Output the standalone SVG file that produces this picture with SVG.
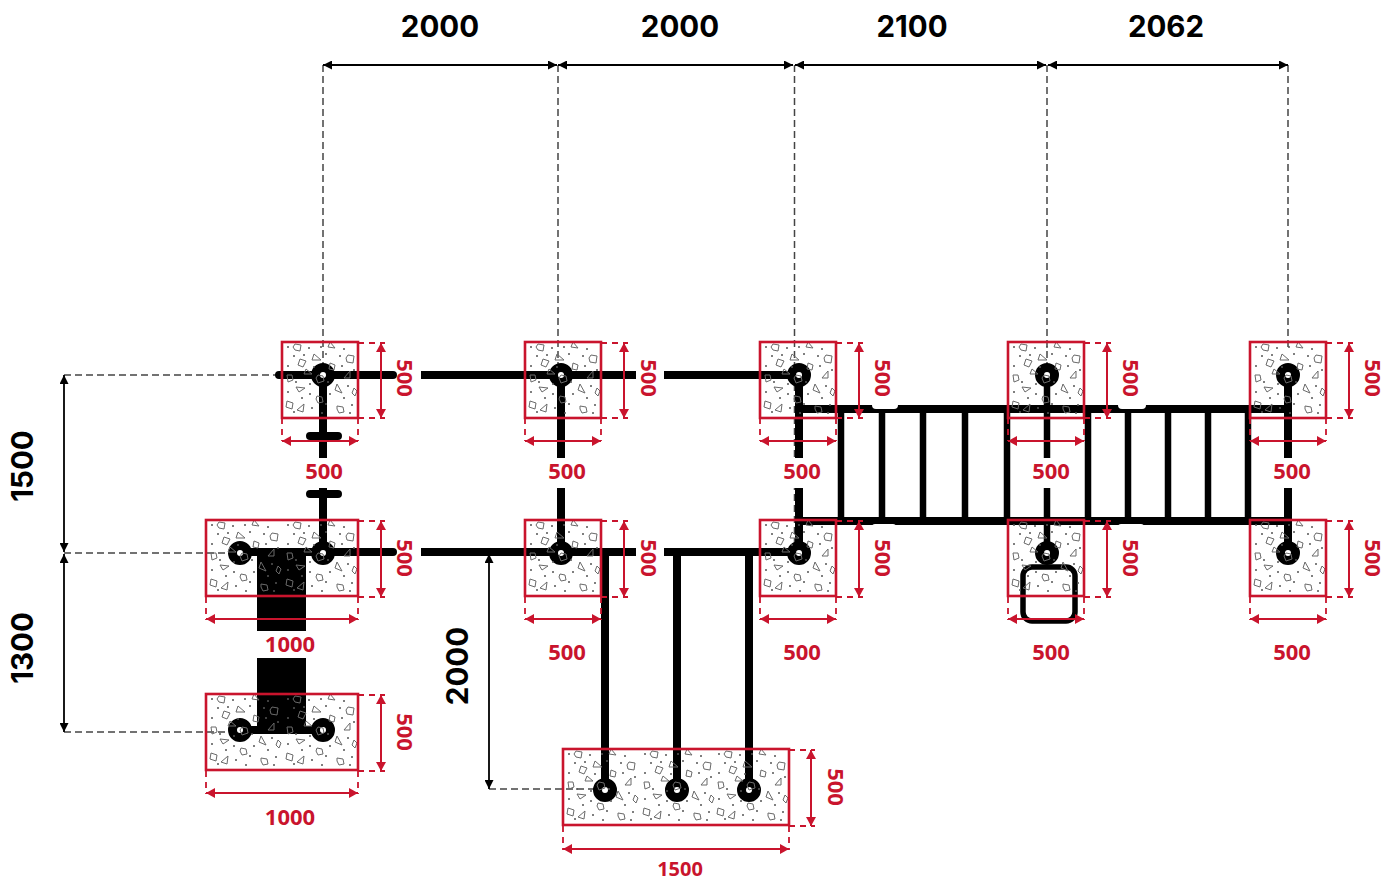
<svg xmlns="http://www.w3.org/2000/svg" width="1395" height="883" viewBox="0 0 1395 883">
<style>
text{font-family:"Inter","Liberation Sans",sans-serif;font-weight:700;text-anchor:middle}
.bt{font-size:29.500px;fill:#000}
.rt{font-family:"Open Sans","Liberation Sans",sans-serif;font-size:22px;fill:#c9142d}
.box{fill:none;stroke:#c9142d;stroke-width:2.6}
.rd{fill:none;stroke:#c9142d;stroke-width:1.8;stroke-dasharray:6 5}
.ra{fill:none;stroke:#c9142d;stroke-width:2;marker-start:url(#mr);marker-end:url(#mr)}
.ka{fill:none;stroke:#000;stroke-width:1.8;marker-start:url(#mk);marker-end:url(#mk)}
.kd{fill:none;stroke:#444;stroke-width:1.500;stroke-dasharray:7 4}
.b{fill:none;stroke:#000;stroke-width:8}
.r{fill:none;stroke:#000;stroke-width:6.5}
.c{fill:#fff;stroke:#000;stroke-width:9}
.q{fill:none;stroke:#6a6a6a;stroke-width:1}
.d{fill:#555}
</style>
<defs>
<filter id="soft" x="-5%" y="-5%" width="110%" height="110%"><feGaussianBlur stdDeviation="0.7"/></filter>
<marker id="mr" viewBox="0 0 10 10" refX="10" refY="5" markerWidth="9" markerHeight="10" markerUnits="userSpaceOnUse" orient="auto-start-reverse" preserveAspectRatio="none"><path d="M0 0L10 5L0 10Z" fill="#c9142d"/></marker>
<marker id="mk" viewBox="0 0 10 10" refX="10" refY="5" markerWidth="9" markerHeight="9" markerUnits="userSpaceOnUse" orient="auto-start-reverse"><path d="M0 0L10 5L0 10Z" fill="#000"/></marker>
<g id="tex">
<path class="q" d="M13 2l6 1-1 6-5-1-2-3zM66 13l6 1-1 7-6-1-1-4zM18 17l6 2-3 6-5-2zM48 21l5 2-1 5-5-1zM36 33l5 1 1 5-6 2-2-5zM5 33l5 0 1 5-5 2zM72 46l3 3-2 5-3-3zM35 54l5 1 1 5-5 1-2-4zM5 59l6 2-1 6-6-2zM55 64l6 1 1 5-5 1-2-4z"/>
<path class="q" d="M48 0l5 6-7-1zM32 12l7 6-9 0zM24 27l6 5-8 0zM68 29l0 7-6 0zM14 45l9 1-6 4zM55 42l5 9-7-3zM22 62l-1 8-6-2z"/>
<g class="d"><circle cx="6" cy="5" r="1"/><circle cx="27" cy="6" r="1"/><circle cx="39" cy="5" r="1"/><circle cx="62" cy="7" r="1"/><circle cx="12" cy="14" r="1"/><circle cx="22" cy="13" r="1"/><circle cx="44" cy="12" r="1"/><circle cx="58" cy="14" r="1"/><circle cx="6" cy="24" r="1"/><circle cx="32" cy="25" r="1"/><circle cx="60" cy="24" r="1"/><circle cx="72" cy="28" r="1"/><circle cx="14" cy="40" r="1"/><circle cx="28" cy="42" r="1"/><circle cx="46" cy="40" r="1"/><circle cx="66" cy="44" r="1"/><circle cx="6" cy="50" r="1"/><circle cx="28" cy="52" r="1"/><circle cx="48" cy="52" r="1"/><circle cx="62" cy="56" r="1"/><circle cx="20" cy="56" r="1"/><circle cx="44" cy="62" r="1"/><circle cx="70" cy="63" r="1"/><circle cx="30" cy="66" r="1"/><circle cx="12" cy="70" r="1"/><circle cx="40" cy="71" r="1"/><circle cx="68" cy="71" r="1"/></g>
</g>
</defs>
<rect width="1395" height="883" fill="#fff"/>

<g id="connectors">
<g id="black-extension-lines">
<path class="kd" d="M323 65V375M558 65V375M794.500 65V552M1047 65V552M1288 65V350"/>
<path class="kd" d="M64 375H282M64 553H240M64 732H238M489 789H605"/>
</g>
<g id="frame" filter="url(#soft)">
<rect x="257" y="552" width="49" height="79" fill="#000"/>
<rect x="257" y="658" width="49" height="72" fill="#000"/>
<path class="b" stroke-linecap="round" d="M279 375H393M240 552H393M240 730H323"/>
<path class="b" d="M421 375H636M664 375H799M421 552H636M664 552H799"/>
<path class="b" d="M323 375V552M561 375V552M605 552V790M677 552V790M749 552V790"/>
<path class="b" stroke-width="7" d="M799 375V552M799 409H1288M799 521H1288M1288 375V552"/>
<path class="r" d="M1047 375V552M841 409V521M882 409V521M923 409V521M965 409V521M1007 409V521M1088 409V521M1128 409V521M1168 409V521M1208 409V521M1248 409V521"/>
<path class="b" stroke-width="7" stroke-linecap="round" d="M310 436H338M310 494H338"/>
<rect x="1023" y="567" width="52" height="54" rx="9" fill="none" stroke="#000" stroke-width="5.500"/>
<rect x="872" y="400" width="26" height="9" rx="4" fill="#fff"/>
<rect x="1118" y="400" width="28" height="9" rx="4" fill="#fff"/>
<rect x="872" y="524" width="24" height="7" rx="3" fill="#fff"/>
<rect x="1118" y="524" width="26" height="7" rx="3" fill="#fff"/>
<g class="c">
<circle cx="323" cy="375" r="7.500"/><circle cx="561" cy="375" r="7.500"/><circle cx="799" cy="375" r="7.500"/><circle cx="1047" cy="375" r="7.500"/><circle cx="1288" cy="375" r="7.500"/>
<circle cx="240" cy="553" r="7.500"/><circle cx="323" cy="553" r="7.500"/><circle cx="561" cy="553" r="7.500"/><circle cx="799" cy="553" r="7.500"/><circle cx="1047" cy="553" r="7.500"/><circle cx="1288" cy="553" r="7.500"/>
<circle cx="240" cy="730" r="7.500"/><circle cx="323" cy="730" r="7.500"/>
<circle cx="605" cy="790" r="7.500"/><circle cx="677" cy="790" r="7.500"/><circle cx="749" cy="790" r="7.500"/>
</g>
</g>
<g id="white-label-backs" fill="#fff">
<rect x="306" y="458" width="36" height="30"/><rect x="549" y="458" width="36" height="30"/><rect x="784" y="458" width="36" height="30"/><rect x="1032" y="458" width="52" height="30"/><rect x="1274" y="458" width="36" height="30"/>
</g>
<g id="black-dimensions">
<path class="ka" d="M323 65H557"/><path class="ka" d="M558 65H793"/><path class="ka" d="M795 65H1046"/><path class="ka" d="M1048 65H1288"/>
<path class="ka" d="M64 375V552"/><path class="ka" d="M64 554V732"/><path class="ka" d="M489 554V789"/>
</g>
</g>

<g id="footings">
<use href="#tex" x="282" y="342"/><use href="#tex" x="525" y="342"/><use href="#tex" x="760" y="342"/><use href="#tex" x="1008" y="342"/><use href="#tex" x="1250" y="342"/>
<use href="#tex" x="206" y="520"/><use href="#tex" x="282" y="520"/><use href="#tex" x="525" y="520"/><use href="#tex" x="760" y="520"/><use href="#tex" x="1008" y="520"/><use href="#tex" x="1250" y="520"/>
<use href="#tex" x="206" y="694"/><use href="#tex" x="282" y="694"/>
<use href="#tex" x="563" y="749"/><use href="#tex" x="639" y="749"/><use href="#tex" x="713" y="749"/>
</g>

<g id="red-dimensions">
<g id="f1"><rect class="box" x="282" y="342" width="76" height="76"/><path class="rd" d="M358 343H385M358 418H385M282 418V441M358 418V441"/><path class="ra" d="M381 343V418"/><path class="ra" d="M282 441H358"/></g>
<g id="f2"><rect class="box" x="525" y="342" width="76" height="76"/><path class="rd" d="M601 343H628M601 418H628M525 418V441M601 418V441"/><path class="ra" d="M624 343V418"/><path class="ra" d="M525 441H601"/></g>
<g id="f3"><rect class="box" x="760" y="342" width="76" height="76"/><path class="rd" d="M836 343H863M836 418H863M760 418V441M836 418V441"/><path class="ra" d="M859 343V418"/><path class="ra" d="M760 441H836"/></g>
<g id="f4"><rect class="box" x="1008" y="342" width="76" height="76"/><path class="rd" d="M1084 343H1111M1084 418H1111M1008 418V441M1084 418V441"/><path class="ra" d="M1107 343V418"/><path class="ra" d="M1008 441H1084"/></g>
<g id="f5"><rect class="box" x="1250" y="342" width="76" height="76"/><path class="rd" d="M1326 343H1353M1326 418H1353M1250 418V441M1326 418V441"/><path class="ra" d="M1349 343V418"/><path class="ra" d="M1250 441H1326"/></g>
<g id="f6"><rect class="box" x="206" y="520" width="152" height="76"/><path class="rd" d="M358 521H385M358 597H385M206 597V620M358 597V620"/><path class="ra" d="M381 521V597"/><path class="ra" d="M206 619H358"/></g>
<g id="f7"><rect class="box" x="525" y="520" width="76" height="76"/><path class="rd" d="M601 521H628M601 597H628M525 597V620M601 597V620"/><path class="ra" d="M624 521V597"/><path class="ra" d="M525 619H601"/></g>
<g id="f8"><rect class="box" x="760" y="520" width="76" height="76"/><path class="rd" d="M836 521H863M836 597H863M760 597V620M836 597V620"/><path class="ra" d="M859 521V597"/><path class="ra" d="M760 619H836"/></g>
<g id="f9"><rect class="box" x="1008" y="520" width="76" height="76"/><path class="rd" d="M1084 521H1111M1084 597H1111M1008 597V620M1084 597V620"/><path class="ra" d="M1107 521V597"/><path class="ra" d="M1008 619H1084"/></g>
<g id="f10"><rect class="box" x="1250" y="520" width="76" height="76"/><path class="rd" d="M1326 521H1353M1326 597H1353M1250 597V620M1326 597V620"/><path class="ra" d="M1349 521V597"/><path class="ra" d="M1250 619H1326"/></g>
<g id="f11"><rect class="box" x="206" y="694" width="152" height="76"/><path class="rd" d="M358 695H385M358 771H385M206 771V794M358 771V794"/><path class="ra" d="M381 695V771"/><path class="ra" d="M206 793H358"/></g>
<g id="f12"><rect class="box" x="563" y="749" width="226" height="76"/><path class="rd" d="M789 750H815M789 826H815M563 826V850M789 826V850"/><path class="ra" d="M811 750V826"/><path class="ra" d="M563 849H789"/></g>
</g>

<g id="labels">
<text class="bt" x="440" y="37">2000</text><text class="bt" x="680" y="37">2000</text><text class="bt" x="912" y="37">2100</text><text class="bt" x="1166" y="37">2062</text>
<text class="bt" transform="translate(33 466) rotate(-90)">1500</text>
<text class="bt" transform="translate(33 648) rotate(-90)">1300</text>
<text class="bt" transform="translate(468 666) rotate(-90)">2000</text>
<text class="rt" x="324" y="479">500</text><text class="rt" x="567" y="479">500</text><text class="rt" x="802" y="479">500</text><text class="rt" x="1051" y="479">500</text><text class="rt" x="1292" y="479">500</text>
<text class="rt" x="567" y="660">500</text><text class="rt" x="802" y="660">500</text><text class="rt" x="1051" y="660">500</text><text class="rt" x="1292" y="660">500</text>
<text class="rt" x="290" y="652">1000</text><text class="rt" x="290" y="825">1000</text><text class="rt" x="680" y="876" style="font-size:20px">1500</text>
<text class="rt" transform="translate(397 378) rotate(90)">500</text><text class="rt" transform="translate(641 378) rotate(90)">500</text><text class="rt" transform="translate(875 378) rotate(90)">500</text><text class="rt" transform="translate(1123 378) rotate(90)">500</text><text class="rt" transform="translate(1365 378) rotate(90)">500</text>
<text class="rt" transform="translate(397 558) rotate(90)">500</text><text class="rt" transform="translate(641 558) rotate(90)">500</text><text class="rt" transform="translate(875 558) rotate(90)">500</text><text class="rt" transform="translate(1123 558) rotate(90)">500</text><text class="rt" transform="translate(1365 558) rotate(90)">500</text>
<text class="rt" transform="translate(397 732) rotate(90)">500</text><text class="rt" transform="translate(828 787) rotate(90)">500</text>
</g>
</svg>
